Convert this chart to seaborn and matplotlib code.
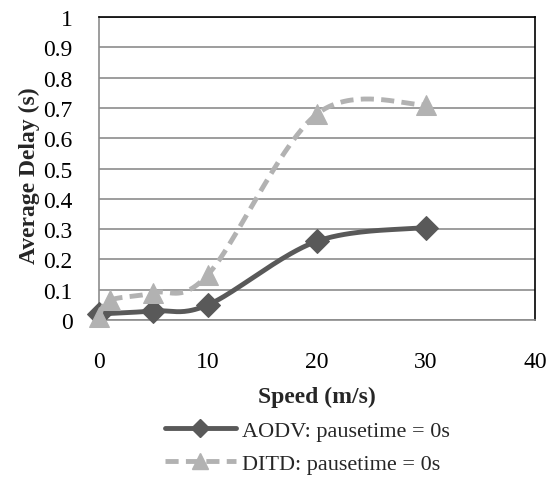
import numpy as np
import matplotlib
matplotlib.use("Agg")
import matplotlib.pyplot as plt
from matplotlib.lines import Line2D
import seaborn as sns

# values
aodv_speed = [0, 5, 10, 20, 30]
aodv_delay = [0.02, 0.03, 0.05, 0.26, 0.305]
ditd_speed = [0, 1, 5, 10, 20, 30]
ditd_delay = [0.01, 0.065, 0.09, 0.15, 0.68, 0.71]
labels = ["AODV: pausetime = 0s", "DITD: pausetime = 0s"]

sns.set_theme(style="white")
plt.rcParams["font.family"] = ["Liberation Serif", "DejaVu Serif"]


def smooth(xs, ys, n=40):
    # Excel-style smoothed line (bezier through the points)
    p = np.column_stack([xs, ys]).astype(float)
    out = []
    for i in range(len(p) - 1):
        p0 = p[max(i - 1, 0)]
        p1, p2 = p[i], p[i + 1]
        p3 = p[min(i + 2, len(p) - 1)]
        c1 = p1 + (p2 - p0) / 6
        c2 = p2 - (p3 - p1) / 6
        t = np.linspace(0, 1, n)[:, None]
        seg = ((1 - t) ** 3) * p1 + 3 * ((1 - t) ** 2) * t * c1 + 3 * (1 - t) * t ** 2 * c2 + t ** 3 * p2
        out.append(seg if i == 0 else seg[1:])
    s = np.vstack(out)
    return s[:, 0], s[:, 1]


dark = "#595959"
light = "#b2b2b2"
dash = (0, (2.7, 1.5))

fig = plt.figure(figsize=(5.58, 4.85), dpi=100)
ax = fig.add_axes([0.1774, 0.3381, 0.7814, 0.6248])

sx, sy = smooth(aodv_speed, aodv_delay)
sns.lineplot(x=sx, y=sy, ax=ax, color=dark, lw=3.5, sort=False, zorder=3)
sns.lineplot(x=aodv_speed, y=aodv_delay, ax=ax, color=dark, lw=0, marker="D",
             markersize=12, markeredgecolor=dark, zorder=4, clip_on=False)

sx, sy = smooth(ditd_speed, ditd_delay)
sns.lineplot(x=sx, y=sy, ax=ax, color=light, lw=3.5, sort=False,
             linestyle=dash, zorder=5)
sns.lineplot(x=ditd_speed, y=ditd_delay, ax=ax, color=light, lw=0, marker="^",
             markersize=14, markeredgecolor=light, zorder=6, clip_on=False)

ax.set_xlim(0, 40)
ax.set_ylim(0, 1)
ax.set_xticks(np.arange(0, 41, 10))
ax.set_yticks(np.round(np.arange(0, 1.01, 0.1), 1))
ax.set_yticklabels(["0"] + ["%.1f" % v for v in np.arange(0.1, 0.95, 0.1)] + ["1"])
ax.yaxis.grid(True, color="#8c8c8c", lw=1.2)
ax.set_axisbelow(True)
ax.tick_params(axis="both", labelsize=17, colors="black", direction="out")
ax.tick_params(axis="x", length=6, width=1.2, color="#8c8c8c", pad=16.5)
ax.tick_params(axis="y", length=6, width=1.2, color="#8c8c8c", pad=13)
for side in ["left", "bottom"]:
    ax.spines[side].set_color("#8c8c8c")
    ax.spines[side].set_linewidth(1.2)
for side in ["top", "right"]:
    ax.spines[side].set_color("black")
    ax.spines[side].set_linewidth(1.2)
    ax.spines[side].set_visible(True)

ax.set_xlabel("Speed (m/s)", fontsize=17, fontweight="bold")
ax.set_ylabel("Average Delay (s)", fontsize=17, fontweight="bold")
ax.xaxis.set_label_coords(0.5, -0.218)
ax.yaxis.set_label_coords(-0.135, 0.478)

handles = [
    Line2D([], [], color=dark, lw=3.5, marker="D", markersize=9),
    Line2D([], [], color=light, lw=3.5, linestyle=dash, marker="^", markersize=11),
]
fig.legend(handles, labels, loc="upper left", bbox_to_anchor=(0.279, 0.149),
           frameon=False, fontsize=16, handlelength=3.2, handletextpad=0.3,
           labelspacing=0.55, borderaxespad=0)

fig.savefig("out.png", dpi=100, facecolor="white")
